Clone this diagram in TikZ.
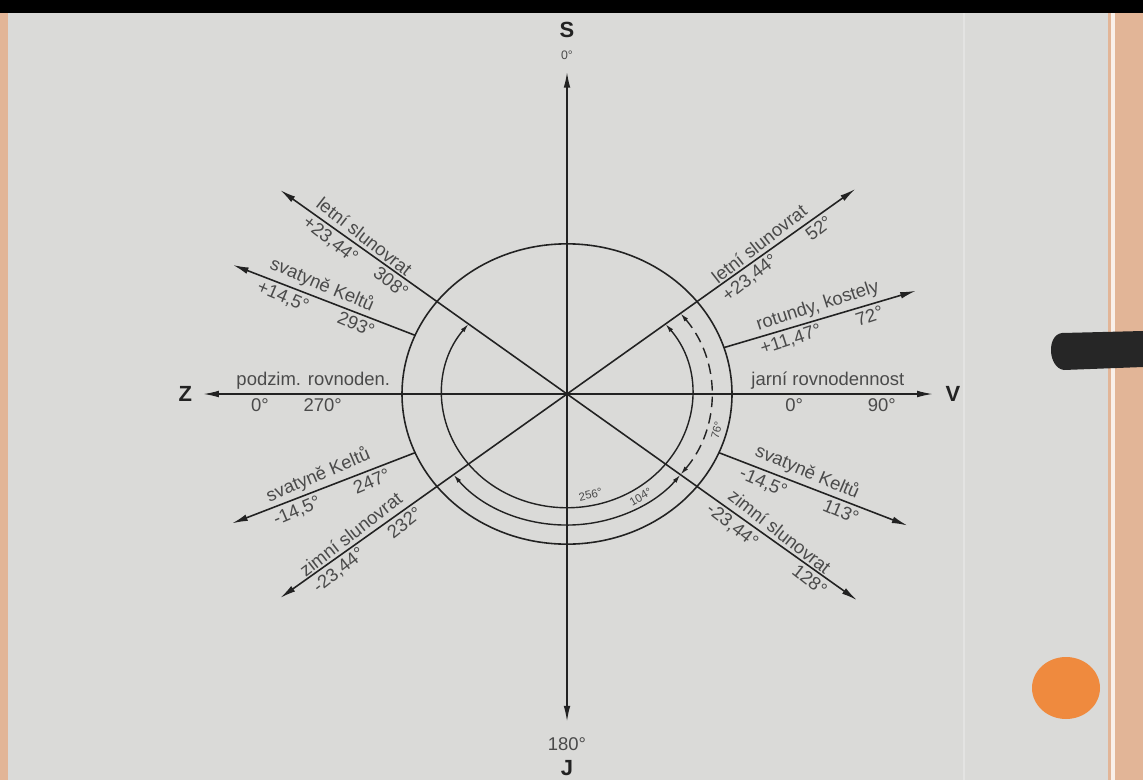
\documentclass[tikz,border=0pt]{standalone}
\usepackage{fontspec}
\setmainfont{Liberation Sans}
\usetikzlibrary{calc}
\usetikzlibrary{positioning}
\usetikzlibrary{arrows.meta}

\definecolor{paper}{HTML}{DADAD8}
\definecolor{ink}{HTML}{222222}
\definecolor{txt}{HTML}{4A4A4A}
\definecolor{rim}{HTML}{E2B597}
\definecolor{dot}{HTML}{EF8A3E}

\tikzset{
  ray/.style={ink,line width=0.9pt,-{Latex[length=9pt,width=3.8pt]}},
  compass/.style={ink,line width=0.9pt,{Latex[length=9pt,width=3.8pt]}-{Latex[length=9pt,width=3.8pt]}},
  turn/.style={ink,line width=0.8pt,{Latex[length=5pt,width=2.6pt]}-{Latex[length=5pt,width=2.6pt]}},
  lbl/.style={txt,font=\fontsize{10.5}{12}\selectfont,inner sep=2pt,sloped},
  hlbl/.style={txt,font=\fontsize{10.5}{12}\selectfont,inner sep=2pt},
  deg/.style={txt,font=\fontsize{6.5}{8}\selectfont,inner sep=0pt},
  pole/.style={ink,font=\bfseries\fontsize{12.5}{14}\selectfont,inner sep=0pt},
}

\begin{document}
\begin{tikzpicture}[x=0.02cm,y=0.02cm]
% photographed sheet
\fill[paper] (0,0) rectangle (1143,-780);
\fill[black] (0,0) rectangle (1143,-13);
\fill[rim] (0,-13) rectangle (8,-780);
\fill[rim] (1108,-13) rectangle (1143,-780);
\draw[white!80!rim,line width=2pt] (1113,-13) -- (1113,-780);
\draw[white!25!paper,line width=0.6pt] (964,-13) -- (964,-780);
\fill[black!85] (1143,-331) -- (1062,-333) .. controls (1046,-335) and (1048,-368) .. (1064,-370) -- (1143,-367) -- cycle;
\fill[dot] (1066,-688) ellipse [x radius=34, y radius=31];

\begin{scope}[shift={(567,-394)},yscale=0.91]
\def\R{165}
\coordinate (O) at (0,0);
\coordinate (tN) at (90:354);
\coordinate (tS) at (270:360);
\coordinate (tW) at (180:364);
\coordinate (tE) at (0:366);

\draw[ink,line width=0.9pt] (O) circle (\R);

% axes
\draw[compass] (tS) -- (tN);
\draw[compass] (tW) -- (tE)
  node[hlbl,above,pos=.151] (nW) {podzim. rovnoden.}
  node[hlbl,below,pos=.078] (nW0) {0°}
  node[hlbl,below,pos=.164] (nW1) {270°}
  node[hlbl,above,pos=.856] (nE) {jarní rovnodennost}
  node[hlbl,below,pos=.81] (nE0) {0°}
  node[hlbl,below,pos=.93] (nE1) {90°};

\node[txt,font=\fontsize{7}{8}\selectfont,inner sep=0pt,above=7pt of tN] (n0) {0°};
\node[pole,above=7pt of n0] (S) {S};
\node[hlbl,inner sep=0pt,below=9pt of tS] (n180) {180°};
\node[pole,below=5pt of n180] (J) {J};
\node[pole,left=6pt of tW] (Z) {Z};
\node[pole,right=7pt of tE] (V) {V};

% solstices
\coordinate (t52) at (38:366);
\coordinate (t308) at (142:364);
\coordinate (t128) at (-38:368);
\coordinate (t232) at (218:364);
\draw[ray] (O) -- (t52)
  node[lbl,above,pos=.69] (l52) {letní slunovrat}
  node[lbl,below,pos=.61] (d52) {+23,44°}
  node[lbl,below,pos=.85] (a52) {52°};
\draw[ray] (O) -- (t308)
  node[lbl,above,pos=.73] (l308) {letní slunovrat}
  node[lbl,below,pos=.80] (d308) {+23,44°}
  node[lbl,below,pos=.59] (a308) {308°};
\draw[ray] (O) -- (t128)
  node[lbl,above,pos=.71] (l128) {zimní slunovrat}
  node[lbl,below,pos=.595] (d128) {-23,44°}
  node[lbl,below,pos=.86] (a128) {128°};
\draw[ray] (O) -- (t232)
  node[lbl,above,pos=.73] (l232) {zimní slunovrat}
  node[lbl,below,pos=.82] (d232) {-23,44°}
  node[lbl,below,pos=.59] (a232) {232°};

% shrines and rotundas
\coordinate (c72) at (18:\R);
\coordinate (t72) at (18:367);
\coordinate (c293) at (157:\R);
\coordinate (t293) at (157:363);
\coordinate (c113) at (-23:\R);
\coordinate (t113) at (-23:370);
\coordinate (c247) at (203:\R);
\coordinate (t247) at (203:364);
\draw[ray] (c72) -- (t72)
  node[lbl,above,pos=.51] (l72) {rotundy, kostely}
  node[lbl,below,pos=.33] (d72) {+11,47°}
  node[lbl,below,pos=.74] (a72) {72°};
\draw[ray] (c293) -- (t293)
  node[lbl,above,pos=.54] (l293) {svatyně Keltů}
  node[lbl,below,pos=.70] (d293) {+14,5°}
  node[lbl,below,pos=.30] (a293) {293°};
\draw[ray] (c113) -- (t113)
  node[lbl,above,pos=.44] (l113) {svatyně Keltů}
  node[lbl,below,pos=.26] (d113) {-14,5°}
  node[lbl,below,pos=.67] (a113) {113°};
\draw[ray] (c247) -- (t247)
  node[lbl,above,pos=.50] (l247) {svatyně Keltů}
  node[lbl,below,pos=.67] (d247) {-14,5°}
  node[lbl,below,pos=.26] (a247) {247°};

% turning arcs
\coordinate (r1) at (38:125);
\coordinate (r2) at (218:144);
\coordinate (r3) at (38:144);
\draw[turn] (r1) arc[start angle=38,end angle=-218,radius=125];
\draw[turn] (r2) arc[start angle=218,end angle=322,radius=144];
\draw[turn,dash pattern=on 6pt off 3.5pt] (r3) arc[start angle=38,end angle=-38,radius=144];
\node[deg,rotate=13] (k256) at (-78:113) {256°};
\node[deg,rotate=30] (k104) at (-57:135) {104°};
\node[deg,rotate=75] (k76) at (-15:155) {76°};
\end{scope}
\end{tikzpicture}
\end{document}
